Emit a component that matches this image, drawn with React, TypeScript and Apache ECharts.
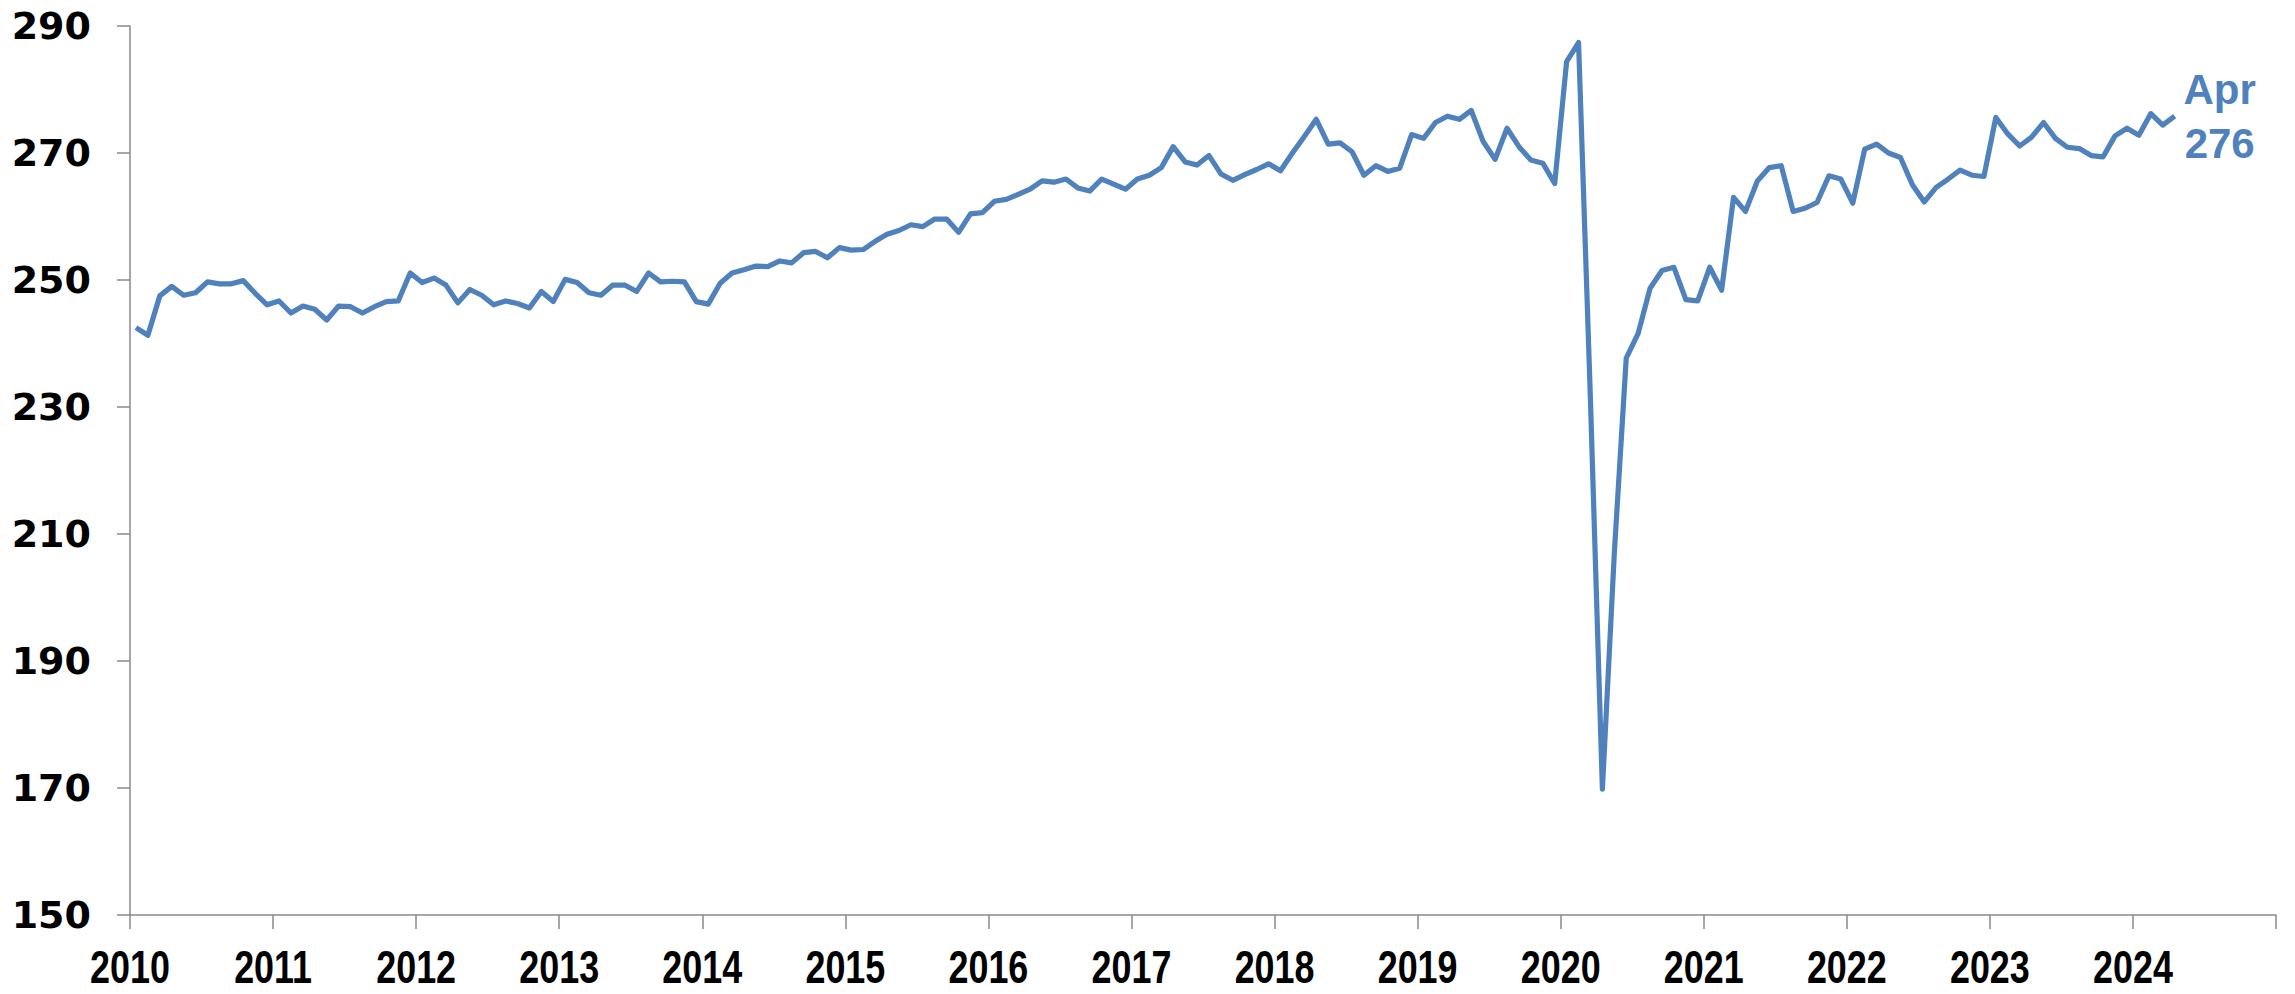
import React, { useEffect, useRef } from "react";
import * as echarts from "echarts";

// Monthly values, Jan 2010 – Apr 2024
const startYear = 2010;
const v2010 = [242.5, 241.3, 247.5, 249.0, 247.6, 248.0, 249.7, 249.4, 249.4, 249.9, 247.9, 246.1];
const v2011 = [246.7, 244.8, 245.9, 245.4, 243.7, 245.9, 245.8, 244.8, 245.8, 246.6, 246.7, 251.1];
const v2012 = [249.6, 250.3, 249.2, 246.4, 248.5, 247.6, 246.1, 246.7, 246.3, 245.6, 248.2, 246.6];
const v2013 = [250.1, 249.6, 248.0, 247.6, 249.2, 249.2, 248.2, 251.1, 249.7, 249.8, 249.7, 246.6];
const v2014 = [246.2, 249.5, 251.1, 251.6, 252.2, 252.1, 253.0, 252.7, 254.3, 254.5, 253.5, 255.1];
const v2015 = [254.7, 254.8, 256.1, 257.2, 257.8, 258.7, 258.4, 259.6, 259.6, 257.5, 260.4, 260.6];
const v2016 = [262.4, 262.7, 263.5, 264.3, 265.6, 265.4, 265.9, 264.5, 264.0, 265.9, 265.1, 264.3];
const v2017 = [265.9, 266.5, 267.7, 271.0, 268.6, 268.1, 269.6, 266.7, 265.7, 266.6, 267.4, 268.3];
const v2018 = [267.2, 270.0, 272.6, 275.3, 271.4, 271.6, 270.2, 266.5, 268.0, 267.1, 267.6, 272.9];
const v2019 = [272.3, 274.8, 275.8, 275.3, 276.7, 271.8, 269.0, 273.9, 271.0, 268.9, 268.4, 265.2];
const v2020 = [284.4, 287.4, 231.0, 169.8, 207.0, 237.7, 241.6, 248.7, 251.5, 252.0, 246.9, 246.7];
const v2021 = [252.0, 248.4, 263.0, 260.8, 265.6, 267.7, 268.0, 260.8, 261.3, 262.2, 266.4, 265.9];
const v2022 = [262.1, 270.6, 271.4, 270.0, 269.3, 265.0, 262.3, 264.6, 265.9, 267.3, 266.5, 266.3];
const v2023 = [275.6, 273.0, 271.1, 272.5, 274.8, 272.3, 270.9, 270.7, 269.6, 269.4, 272.7, 273.9];
const v2024 = [272.8, 276.2, 274.4, 275.8];

const values = [
  ...v2010, ...v2011, ...v2012, ...v2013, ...v2014, ...v2015, ...v2016, ...v2017,
  ...v2018, ...v2019, ...v2020, ...v2021, ...v2022, ...v2023, ...v2024,
];

// x-axis tick labels (one per year; the final tick at 2025 is unlabeled)
const yearLabels = [
  "2010", "2011", "2012", "2013", "2014", "2015", "2016", "2017",
  "2018", "2019", "2020", "2021", "2022", "2023", "2024",
];

const xMin = 2010;
const xMax = 2025;
const yMin = 150;
const yMax = 290;
const yStep = 20;
const lastMonthName = "Apr";

const LINE_COLOR = "#4f81bd";
const AXIS_COLOR = "#8a8a8a";

export default function App() {
  const ref = useRef<HTMLDivElement>(null);

  useEffect(() => {
    if (!ref.current) return;
    const chart = echarts.init(ref.current, null, { renderer: "svg" });
    const data = values.map((v, i) => [startYear + (i + 0.5) / 12, v]);

    chart.setOption({
      animation: false,
      backgroundColor: "#ffffff",
      grid: { left: 130, right: 19, top: 26, bottom: 79, containLabel: false },
      xAxis: {
        type: "value",
        min: xMin,
        max: xMax,
        interval: 1,
        splitLine: { show: false },
        axisLine: { show: true, lineStyle: { color: AXIS_COLOR, width: 1.5 } },
        axisTick: { show: true, length: 14, lineStyle: { color: AXIS_COLOR, width: 1.5 } },
        axisLabel: { show: false },
      },
      yAxis: {
        type: "value",
        min: yMin,
        max: yMax,
        interval: yStep,
        splitLine: { show: false },
        axisLine: { show: true, lineStyle: { color: AXIS_COLOR, width: 1.5 } },
        axisTick: { show: true, length: 13, lineStyle: { color: AXIS_COLOR, width: 1.5 } },
        axisLabel: {
          color: "#000",
          fontFamily: "'DejaVu Sans', sans-serif",
          fontWeight: "bold",
          fontSize: 38,
          margin: 39,
        },
      },
      series: [
        {
          type: "line",
          data,
          symbol: "none",
          lineStyle: { color: LINE_COLOR, width: 5.2, join: "round" },
          itemStyle: { color: LINE_COLOR },
          endLabel: {
            show: true,
            formatter: (p: any) => `${lastMonthName}\n${Math.round(p.value[1])}`,
            color: LINE_COLOR,
            fontFamily: "'Liberation Sans', sans-serif",
            fontWeight: "bold",
            fontSize: 42,
            lineHeight: 54,
            align: "center",
            distance: 45,
          },
        },
      ],
    });

    // Condensed year labels placed at the axis' own tick positions
    const labelY = 994 - 79 + 52;
    const graphics = yearLabels.map((lab) => {
      const px = chart.convertToPixel({ xAxisIndex: 0 }, Number(lab)) as number;
      return {
        type: "text",
        x: px,
        y: labelY,
        scaleX: 0.78,
        scaleY: 1,
        silent: true,
        style: {
          text: lab,
          fill: "#000",
          font: "bold 46px 'Liberation Sans', Arial, sans-serif",
          textAlign: "center",
          textVerticalAlign: "middle",
        },
      };
    });
    chart.setOption({ graphic: graphics });

    return () => chart.dispose();
  }, []);

  return (
    <div
      ref={ref}
      style={{ position: "fixed", left: 0, top: 0, width: 2295, height: 994 }}
    />
  );
}
